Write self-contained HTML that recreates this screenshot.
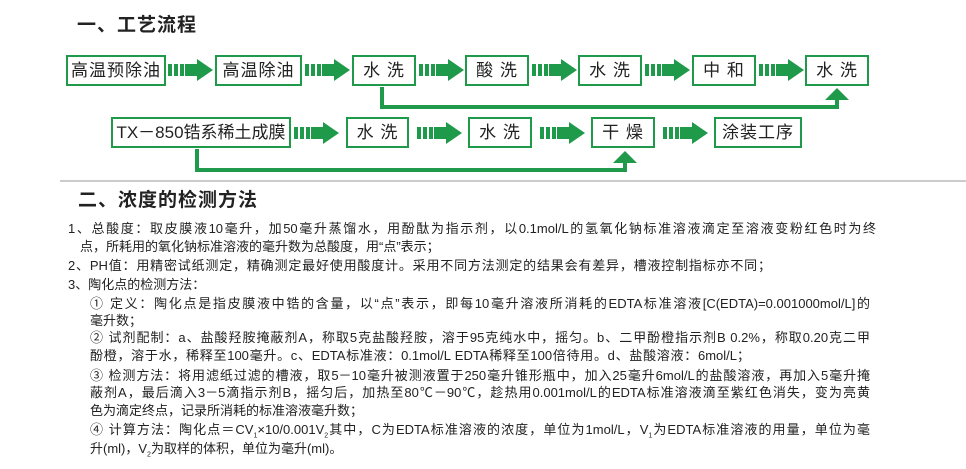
<!DOCTYPE html>
<html><head><meta charset="utf-8"><style>
body{margin:0;width:966px;height:469px;background:#fff;position:relative;overflow:hidden;font-family:"Liberation Sans","Noto Sans CJK SC",sans-serif;color:#222}
.b{position:absolute;border:2px solid #1e9a4a;box-sizing:border-box;height:31px;line-height:27px;text-align:center;font-size:17px;color:#222;white-space:nowrap;letter-spacing:1px}
.h{position:absolute;font-size:19px;font-weight:bold;color:#222;letter-spacing:1px}
.t{position:absolute;font-size:13px;white-space:nowrap;line-height:16px}
.j{text-align:justify;text-align-last:justify;white-space:normal;height:16px;overflow:hidden}
svg{position:absolute;left:0;top:0}
</style></head><body>
<div class="h" style="left:77px;top:10px">一、工艺流程</div>
<div class="b" style="left:66px;top:55px;width:100px">高温预除油</div>
<div class="b" style="left:215px;top:55px;width:87px">高温除油</div>
<div class="b" style="left:352px;top:55px;width:64px">水 洗</div>
<div class="b" style="left:465px;top:55px;width:64px">酸 洗</div>
<div class="b" style="left:578px;top:55px;width:64px">水 洗</div>
<div class="b" style="left:692px;top:55px;width:64px">中 和</div>
<div class="b" style="left:805px;top:55px;width:64px">水 洗</div>
<div class="b" style="left:111px;top:117px;width:180px;letter-spacing:0">TX－850锆系稀土成膜</div>
<div class="b" style="left:346px;top:117px;width:63px">水 洗</div>
<div class="b" style="left:468px;top:117px;width:64px">水 洗</div>
<div class="b" style="left:591px;top:117px;width:64px">干 燥</div>
<div class="b" style="left:714px;top:117px;width:88px">涂装工序</div>
<svg width="966" height="469">
<defs><g id="a" fill="#1e9a4a"><rect x="0" y="-6" width="4" height="12"/><rect x="6" y="-6" width="4" height="12"/><rect x="12" y="-6" width="4" height="12"/><rect x="17" y="-6" width="13" height="12"/><polygon points="29,-11 45,0 29,11"/></g></defs>
<use href="#a" x="168" y="70"/><use href="#a" x="305" y="70"/><use href="#a" x="419" y="70"/><use href="#a" x="532" y="70"/><use href="#a" x="645" y="70"/><use href="#a" x="759" y="70"/>
<use href="#a" x="294" y="133"/><use href="#a" x="417" y="133"/><use href="#a" x="540" y="133"/><use href="#a" x="663" y="133"/>
<polyline points="382,87 382,107 837,107 837,98" fill="none" stroke="#1e9a4a" stroke-width="4"/>
<polygon points="825,100 849,100 837,88" fill="#1e9a4a"/>
<polyline points="197,149 197,170 625,170 625,161" fill="none" stroke="#1e9a4a" stroke-width="4"/>
<polygon points="613,163 637,163 625,151" fill="#1e9a4a"/>
<line x1="60" y1="181" x2="966" y2="181" stroke="#bbb" stroke-width="1.5"/>
</svg>
<div class="h" style="left:78px;top:185px">二、浓度的检测方法</div>
<div class="t j" style="left:68px;top:221px;width:808px">1、总酸度：取皮膜液10毫升，加50毫升蒸馏水，用酚酞为指示剂，以0.1mol/L的氢氧化钠标准溶液滴定至溶液变粉红色时为终</div>
<div class="t" style="left:80px;top:239px">点，所耗用的氧化钠标准溶液的毫升数为总酸度，用“点”表示；</div>
<div class="t j" style="left:68px;top:258px;width:703px">2、PH值：用精密试纸测定，精确测定最好使用酸度计。采用不同方法测定的结果会有差异，槽液控制指标亦不同；</div>
<div class="t" style="left:68px;top:277px">3、陶化点的检测方法：</div>
<div class="t j" style="left:90px;top:296px;width:780px">① 定义：陶化点是指皮膜液中锆的含量，以“点”表示，即每10毫升溶液所消耗的EDTA标准溶液[C(EDTA)=0.001000mol/L]的</div>
<div class="t" style="left:90px;top:313px">毫升数；</div>
<div class="t j" style="left:90px;top:330px;width:780px">② 试剂配制：a、盐酸羟胺掩蔽剂A，称取5克盐酸羟胺，溶于95克纯水中，摇匀。b、二甲酚橙指示剂B 0.2%，称取0.20克二甲</div>
<div class="t j" style="left:90px;top:348px;width:660px">酚橙，溶于水，稀释至100毫升。c、EDTA标准液：0.1mol/L EDTA稀释至100倍待用。d、盐酸溶液：6mol/L；</div>
<div class="t j" style="left:90px;top:368px;width:780px">③ 检测方法：将用滤纸过滤的槽液，取5－10毫升被测液置于250毫升锥形瓶中，加入25毫升6mol/L的盐酸溶液，再加入5毫升掩</div>
<div class="t j" style="left:90px;top:385px;width:780px">蔽剂A，最后滴入3－5滴指示剂B，摇匀后，加热至80℃－90℃，趁热用0.001mol/L的EDTA标准溶液滴至紫红色消失，变为亮黄</div>
<div class="t" style="left:90px;top:403px">色为滴定终点，记录所消耗的标准溶液毫升数；</div>
<div class="t j" style="left:90px;top:422px;width:780px">④ 计算方法：陶化点＝CV<sub style="font-size:7px">1</sub>×10/0.001V<sub style="font-size:7px">2</sub>其中，C为EDTA标准溶液的浓度，单位为1mol/L，V<sub style="font-size:7px">1</sub>为EDTA标准溶液的用量，单位为毫</div>
<div class="t" style="left:90px;top:441px">升(ml)，V<sub style="font-size:7px">2</sub>为取样的体积，单位为毫升(ml)。</div>
</body></html>
